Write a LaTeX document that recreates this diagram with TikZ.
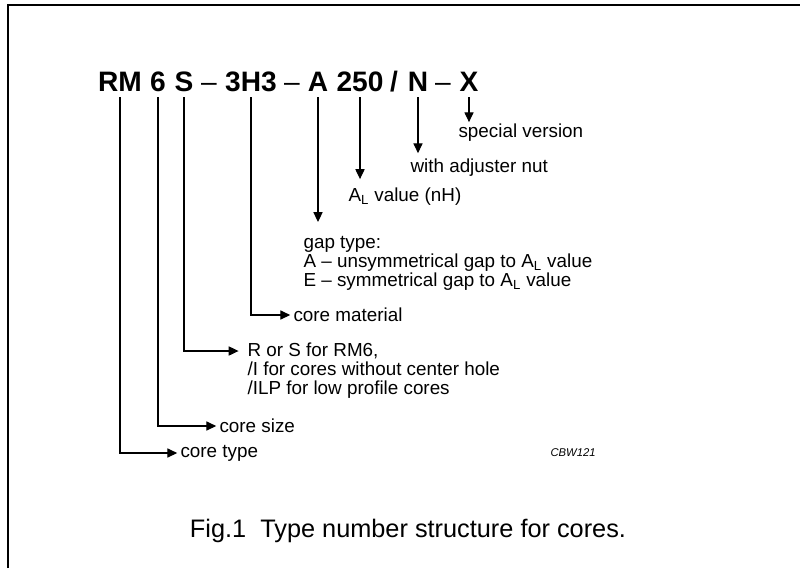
\documentclass[tikz,border=0pt]{standalone}
\usepackage{fontspec}
\setmainfont{Liberation Sans}
\usetikzlibrary{arrows.meta,positioning,calc}
\setlength{\lineskiplimit}{-20pt}

\begin{document}
\begin{tikzpicture}[x=0.025cm,y=-0.025cm,line width=0.8pt,
  >={Triangle[length=7pt,width=6.5pt]},
  tpart/.style={font=\fontsize{20}{24}\selectfont\bfseries,anchor=base,inner xsep=0pt,inner ysep=4pt,text depth=0pt},
  tsep/.style={tpart,font=\fontsize{20}{24}\selectfont},
  lbl/.style={font=\fontsize{13.4}{13.5}\selectfont,anchor=west,inner sep=0pt}]
\useasboundingbox (0,0) rectangle (800,568);
\draw[line width=1.5pt] (8,568) -- (8,5) -- (800,5);
% type number
\node[tpart] (RM) at (120,91) {RM};
\node[tpart] (six) at (158,91) {6};
\node[tpart] (S) at (184,91) {S};
\node[tsep] (d1) at (209,91) {--};
\node[tpart] (mat) at (251,91) {3H3};
\node[tsep] (d2) at (292,91) {--};
\node[tpart] (gap) at (318,91) {A};
\node[tpart] (AL) at (360,91) {250};
\node[tpart] (sl) at (394,91) {/};
\node[tpart] (N) at (418,91) {N};
\node[tsep] (d3) at (443,91) {--};
\node[tpart] (X) at (469,91) {X};
% explanations
\node[lbl,outer ysep=1.5pt] (sv) at (458,133) {special version};
\node[lbl,outer ysep=4.3pt] (wan) at (410,168) {with adjuster nut};
\node[lbl,outer ysep=6.5pt] (alv) at (348,197) {A\textsubscript{L} value (nH)};
\node[lbl,outer ysep=10.3pt,anchor=north west,align=left] (gt) at (303,222) {gap type:\\A -- unsymmetrical gap to A\textsubscript{L} value\\E -- symmetrical gap to A\textsubscript{L} value};
\node[lbl] (cmat) at (293,315) {core material};
\node[lbl] (rs) at (247,351) {R or S for RM6,};
\node[lbl,anchor=base west,align=left] (rs2) at ([yshift=-27pt]rs.base west) {/I for cores without center hole\\/ILP for low profile cores};
\node[lbl] (csize) at (219,426) {core size};
\node[lbl] (ctype) at (180,453) {core type};
\node[font=\fontsize{8}{10}\selectfont\itshape,anchor=west,inner sep=0pt] (code) at (550,453) {CBW121};
\node[font=\fontsize{18}{22}\selectfont] (cap) at (408,531) {Fig.1\ \ Type number structure for cores.};
\path[->]
(X) edge (X |- sv.north)
(N) edge (N |- wan.north)
(AL) edge (AL |- alv.north)
(gap) edge (gap |- gt.north);
\draw[->,shorten >=2pt] (mat) |- (cmat);
\draw[->,shorten >=6pt] (S) |- (rs);
\draw[->,shorten >=2pt] (six) |- (csize);
\draw[->,shorten >=2pt] (RM) |- (ctype);
\end{tikzpicture}
\end{document}
